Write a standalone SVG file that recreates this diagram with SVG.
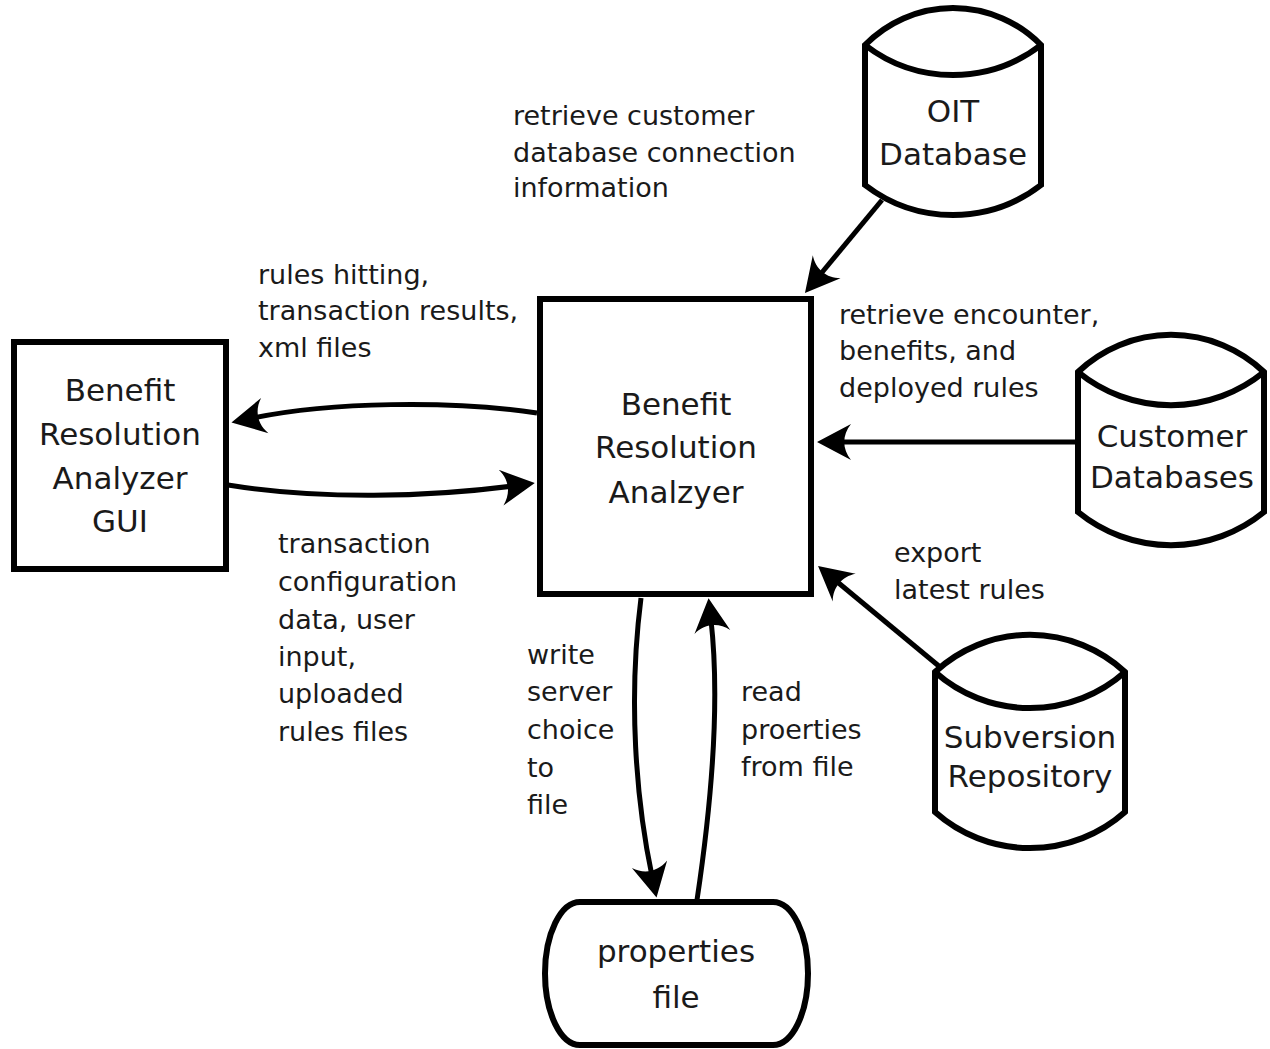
<svg xmlns="http://www.w3.org/2000/svg" width="1270" height="1049" viewBox="0 0 1270 1049">
  <style>
    .shape { fill: #ffffff; stroke: #000000; stroke-width: 6; stroke-linejoin: miter; }
    .inner { fill: none; stroke: #000000; stroke-width: 6; }
    .node-text { font-family: "DejaVu Sans", "Liberation Sans", sans-serif; font-size: 31px; fill: #1a1a1a; text-anchor: middle; }
    .label { font-family: "DejaVu Sans", "Liberation Sans", sans-serif; font-size: 27px; fill: #1a1a1a; }
    .conn { fill: none; stroke: #000000; stroke-width: 5; marker-end: url(#arrow); }
  </style>
  <defs>
    <!-- barbed arrowhead; the path end sits at the notch, the tip lies 22px further on -->
    <marker id="arrow" markerUnits="userSpaceOnUse" viewBox="-36 -20 40 40" refX="-22" refY="0" markerWidth="40" markerHeight="40" orient="auto" overflow="visible">
      <path d="M0,0 L-34,-18 C-25,-7 -25,7 -34,18 Z" fill="#000000"/>
    </marker>
  </defs>

  <rect width="1270" height="1049" fill="#ffffff"/>

  <!-- connectors -->
  <g id="connectors">
    <path class="conn" d="M882,200 L819,276"/>
    <path class="conn" d="M1078,442 L839,442"/>
    <path class="conn" d="M940,667 L835,580"/>
    <path class="conn" d="M537,413 C450,400 330,402 253,418"/>
    <path class="conn" d="M228,485 C320,500 430,497 513,486"/>
    <path class="conn" d="M641,598 C628,700 636,800 652,876"/>
    <path class="conn" d="M697,900 C712,800 720,700 711,620"/>
  </g>

  <!-- GUI box -->
  <g id="gui">
    <rect class="shape" x="14" y="342" width="212" height="227"/>
    <text class="node-text" x="120" y="401">Benefit</text>
    <text class="node-text" x="120" y="445">Resolution</text>
    <text class="node-text" x="120" y="489">Analyzer</text>
    <text class="node-text" x="120" y="532">GUI</text>
  </g>

  <!-- analyzer core -->
  <g id="analyzer">
    <rect class="shape" x="540" y="299" width="271" height="295"/>
    <text class="node-text" x="676" y="415">Benefit</text>
    <text class="node-text" x="676" y="458">Resolution</text>
    <text class="node-text" x="676" y="503">Analzyer</text>
  </g>

  <!-- OIT database cylinder -->
  <g id="oit-db">
    <path class="shape" d="M865,45 A123,123 0 0 1 1041,45 V185 A144,144 0 0 1 865,185 Z"/>
    <path class="inner" d="M865,45 A144,144 0 0 0 1041,45"/>
    <text class="node-text" x="953" y="122">OIT</text>
    <text class="node-text" x="953" y="165">Database</text>
  </g>

  <!-- customer databases cylinder -->
  <g id="customer-db">
    <path class="shape" d="M1078,372 A135,135 0 0 1 1264,372 V512 A147,147 0 0 1 1078,512 Z"/>
    <path class="inner" d="M1078,372 A147,147 0 0 0 1264,372"/>
    <text class="node-text" x="1172" y="447">Customer</text>
    <text class="node-text" x="1172" y="488">Databases</text>
  </g>

  <!-- subversion repository cylinder -->
  <g id="svn-repo">
    <path class="shape" d="M935,672 A140,140 0 0 1 1125,672 V812 A143,143 0 0 1 935,812 Z"/>
    <path class="inner" d="M935,672 A143,143 0 0 0 1125,672"/>
    <text class="node-text" x="1030" y="748">Subversion</text>
    <text class="node-text" x="1030" y="787">Repository</text>
  </g>

  <!-- properties file -->
  <g id="properties">
    <path class="shape" d="M580,902 H773 A35,71.5 0 0 1 773,1045 H580 A35,71.5 0 0 1 580,902 Z"/>
    <text class="node-text" x="676" y="962">properties</text>
    <text class="node-text" x="676" y="1008">file</text>
  </g>

  <!-- connector labels -->
  <g id="labels">
    <text class="label" x="513" y="125">retrieve customer</text>
    <text class="label" x="513" y="162">database connection</text>
    <text class="label" x="513" y="197">information</text>

    <text class="label" x="258" y="284">rules hitting,</text>
    <text class="label" x="258" y="320">transaction results,</text>
    <text class="label" x="258" y="357">xml files</text>

    <text class="label" x="839" y="324">retrieve encounter,</text>
    <text class="label" x="839" y="360">benefits, and</text>
    <text class="label" x="839" y="397">deployed rules</text>

    <text class="label" x="278" y="553">transaction</text>
    <text class="label" x="278" y="591">configuration</text>
    <text class="label" x="278" y="629">data, user</text>
    <text class="label" x="278" y="666">input,</text>
    <text class="label" x="278" y="703">uploaded</text>
    <text class="label" x="278" y="741">rules files</text>

    <text class="label" x="894" y="562">export</text>
    <text class="label" x="894" y="599">latest rules</text>

    <text class="label" x="527" y="664">write</text>
    <text class="label" x="527" y="701">server</text>
    <text class="label" x="527" y="739">choice</text>
    <text class="label" x="527" y="777">to</text>
    <text class="label" x="527" y="814">file</text>

    <text class="label" x="741" y="701">read</text>
    <text class="label" x="741" y="739">proerties</text>
    <text class="label" x="741" y="776">from file</text>
  </g>
</svg>
